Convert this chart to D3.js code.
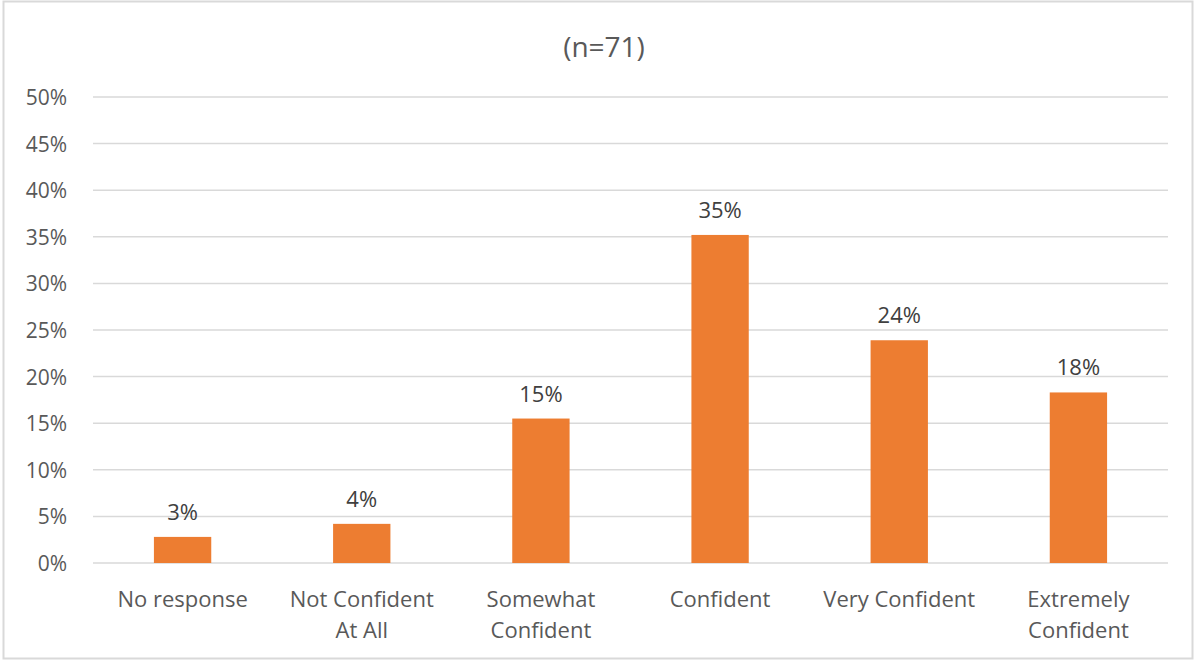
<!DOCTYPE html>
<html><head><meta charset="utf-8">
<script src="https://cdn.jsdelivr.net/npm/d3@7"></script>
<style>body{margin:0;background:#fff;}svg{display:block;font-family:"Open Sans","Noto Sans",sans-serif;}</style>
</head><body><svg id="c" width="1196" height="662"></svg>
<script>
const categories = [["No response"],["Not Confident","At All"],["Somewhat","Confident"],["Confident"],["Very Confident"],["Extremely","Confident"]];
const values = [0.028, 0.042, 0.155, 0.352, 0.239, 0.183];
const valueLabels = ["3%","4%","15%","35%","24%","18%"];
const yTicks = [0,0.05,0.10,0.15,0.20,0.25,0.30,0.35,0.40,0.45,0.50];
const title = "(n=71)";

const svg = d3.select("#c");
svg.append("rect").attr("x",3.5).attr("y",1.5).attr("width",1189).attr("height",657)
  .attr("fill","#fff").attr("stroke","#D9D9D9").attr("stroke-width",2);

const pL=93,pR=1168,pT=97,pB=563;
const x = d3.scaleBand().domain(d3.range(categories.length)).range([pL,pR]).paddingInner(0.68).paddingOuter(0.34);
const y = d3.scaleLinear().domain([0,0.5]).range([pB,pT]);

svg.append("g").selectAll("line").data(yTicks).join("line")
  .attr("x1",pL).attr("x2",pR).attr("y1",d=>y(d)).attr("y2",d=>y(d))
  .attr("stroke","#D9D9D9").attr("stroke-width",1.5);

const yAxis = d3.axisLeft(y).tickValues(yTicks).tickFormat(d3.format(".0%")).tickSize(0).tickPadding(26);
const ga = svg.append("g").attr("transform",`translate(${pL},0)`).call(yAxis);
ga.select(".domain").remove();
ga.selectAll("text").attr("fill","#595959").attr("dy","0.36em").style("font-size","21px").style("font-family","'Open Sans','Noto Sans',sans-serif");

svg.append("g").selectAll("rect").data(values).join("rect")
  .attr("x",(d,i)=>x(i)).attr("width",x.bandwidth())
  .attr("y",d=>y(d)).attr("height",d=>y(0)-y(d)).attr("fill","#ED7D31");

svg.append("g").selectAll("text").data(values).join("text")
  .attr("x",(d,i)=>x(i)+x.bandwidth()/2).attr("y",d=>y(d)-17)
  .attr("text-anchor","middle").attr("fill","#404040").style("font-size","22px")
  .text((d,i)=>valueLabels[i]);

const cl = svg.append("g").selectAll("text").data(categories).join("text")
  .attr("text-anchor","middle").attr("fill","#595959").style("font-size","22px")
  .attr("x",(d,i)=>x(i)+x.bandwidth()/2).attr("y",607);
cl.selectAll("tspan").data(d=>d).join("tspan")
  .attr("x",function(){return this.parentNode.getAttribute("x");})
  .attr("dy",(d,j)=>j===0?0:31).text(d=>d);

svg.append("text").attr("x",604).attr("y",57).attr("text-anchor","middle")
  .attr("fill","#595959").style("font-size","28px").text(title);
</script></body></html>
